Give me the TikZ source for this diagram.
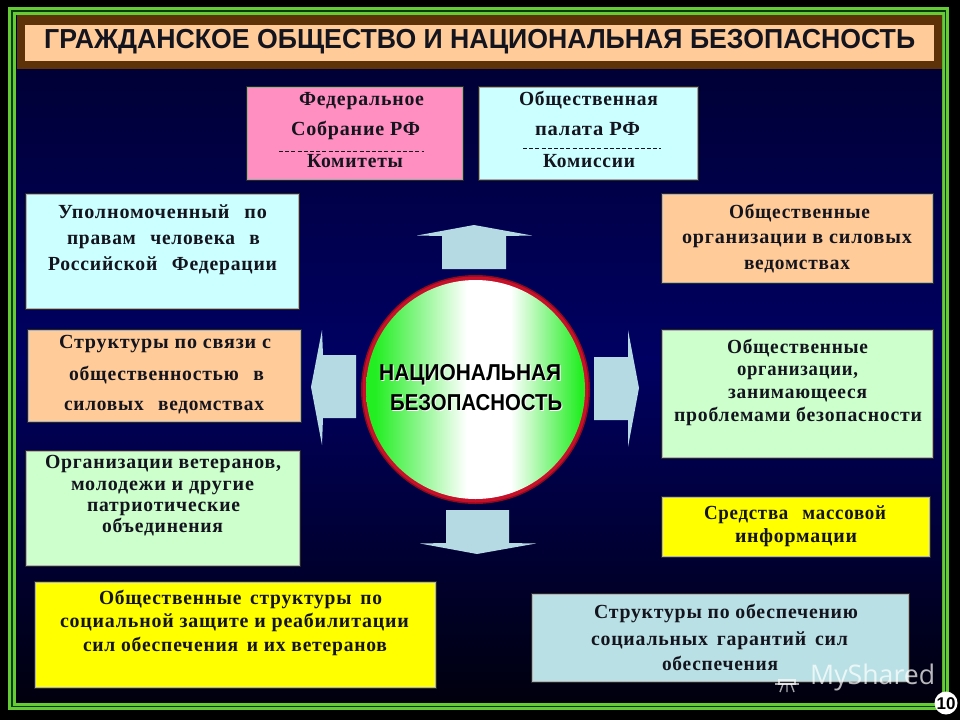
\documentclass[tikz,border=0pt]{standalone}
\usepackage{fontspec}
\usepackage{graphicx}
\setmainfont{Liberation Serif}
\newfontfamily\rf[LetterSpace=4,Ligatures=NoCommon]{Liberation Serif}
\newfontfamily\hs{Liberation Sans}
\newfontfamily\wm{Open Sans}
\definecolor{bg1}{HTML}{00002E}
\definecolor{bg2}{HTML}{000062}
\definecolor{bg3}{HTML}{00000E}
\definecolor{frameg}{HTML}{66CC33}
\definecolor{framed}{HTML}{0A3A10}
\definecolor{brownb}{HTML}{5E3208}
\definecolor{peach}{HTML}{FFCC99}
\definecolor{pinkb}{HTML}{FF8FC0}
\definecolor{cyanb}{HTML}{CCFFFF}
\definecolor{greenb}{HTML}{CCFFCC}
\definecolor{yellowb}{HTML}{FFFF00}
\definecolor{blueb}{HTML}{B9E0E4}
\definecolor{arrowb}{HTML}{B5DAE3}
\definecolor{ink}{HTML}{14141E}
\definecolor{ringr}{HTML}{C8102A}
\definecolor{ballg}{HTML}{22EE22}
\pgfdeclarehorizontalshading{ballshade}{100bp}{color(0bp)=(ballg); color(27bp)=(ballg); color(48bp)=(white); color(58bp)=(white); color(74bp)=(ballg); color(100bp)=(ballg)}
\newcounter{tlc}
\tikzset{
  plate/.style={draw=#1,line width=.9pt,inner sep=0pt,outer sep=0pt,preaction={draw=black!85,line width=2.4pt}},
  linetext/.style={anchor=base west,inner sep=0pt,outer sep=0pt,text=ink},
  blockarrow/.style={fill=arrowb,draw=none},
  rule/.style={draw=ink,line width=.6pt,dash pattern=on 4pt off 2.2pt}
}
% name, x1, y1, x2, y2, fill, border
\newcommand\plaque[7]{%
  \pgfmathsetmacro\pw{#4-#2-1}\pgfmathsetmacro\ph{#5-#3-1}%
  \pgfmathsetmacro\px{(#4+#2)/2}\pgfmathsetmacro\py{(#5+#3)/2}%
  \node[plate=#7,fill=#6,minimum width=\pw pt,minimum height=\ph pt] (#1) at (\px,\py) {};}
% x1, x2, baseline, text
\newcommand\tline[4]{%
  \stepcounter{tlc}%
  \pgfmathsetmacro\pw{#2-#1}%
  \node[linetext] (line\arabic{tlc}) at (#1,#3) {\resizebox{\pw pt}{\height}{\fontsize{20}{23}\rf\bfseries #4}};}
\newcommand\wsp{\hspace{.45em}}
\begin{document}
\begin{tikzpicture}[x=1pt,y=-1pt]
\useasboundingbox (0,0) rectangle (960,720);
\fill[black] (0,0) rectangle (960,720);
% frame
\fill[frameg] (8,7) rectangle (949,710);
\fill[framed] (11,10) rectangle (946,707);
\fill[frameg] (12.5,11.5) rectangle (944.5,705.5);
% field
\shade[top color=bg1,bottom color=bg3,middle color=bg2] (16,15) rectangle (942,702);
% title band
\fill[brownb] (17,15) rectangle (942,69);
\fill[peach] (25,25) rectangle (934,61);
\node[anchor=base west,inner sep=0pt,text=ink] (title) at (44,48) {\resizebox{871pt}{\height}{\fontsize{27.5}{30}\hs\bfseries ГРАЖДАНСКОЕ ОБЩЕСТВО И НАЦИОНАЛЬНАЯ БЕЗОПАСНОСТЬ}};
% boxes
\plaque{fed}{247}{87}{463}{180}{pinkb}{gray!70}
\plaque{pal}{479}{87}{698}{180}{cyanb}{gray!70}
\plaque{upo}{26}{194}{299}{309}{cyanb}{gray!60}
\plaque{osv}{662}{194}{933}{283}{peach}{gray!60}
\plaque{ssv}{28}{330}{301}{422}{peach}{gray!60}
\plaque{oor}{662}{330}{933}{458}{greenb}{gray!60}
\plaque{vet}{26}{451}{300}{566}{greenb}{gray!60}
\plaque{smi}{662}{497}{930}{557}{yellowb}{gray!60}
\plaque{soc}{35}{582}{436}{688}{yellowb}{gray!60}
\plaque{gar}{532}{594}{909}{682}{blueb}{gray!60}
% box texts
\tline{299}{424}{105}{Федеральное}
\tline{291}{420}{135}{Собрание РФ}
\draw[rule] (279,151) -- (424,151);
\tline{307}{403}{167}{Комитеты}
\tline{519}{658}{105}{Общественная}
\tline{535}{640}{135}{палата РФ}
\draw[rule] (523,148) -- (661,148);
\tline{543}{635}{167}{Комиссии}
\tline{58}{267}{218}{Уполномоченный\wsp\ по}
\tline{67}{260}{244}{правам\wsp\ человека\wsp\ в}
\tline{48}{277}{270}{Российской\wsp\ Федерации}
\tline{729}{870}{218}{Общественные}
\tline{682}{912}{243}{организации в силовых}
\tline{744}{850}{269}{ведомствах}
\tline{59}{271}{348}{Структуры по связи с}
\tline{69}{264}{380}{общественностью\wsp\ в}
\tline{64}{264}{410}{силовых\wsp\ ведомствах}
\tline{727}{868}{353}{Общественные}
\tline{737}{858}{375}{организации,}
\tline{728}{867}{398}{занимающееся}
\tline{674}{922}{421}{проблемами безопасности}
\tline{45}{281}{468}{Организации ветеранов,}
\tline{71}{254}{490}{молодежи и другие}
\tline{87}{240}{511}{патриотические}
\tline{102}{223}{532}{объединения}
\tline{704}{886}{519}{Средства\wsp\ массовой}
\tline{735}{857}{542}{информации}
\tline{99}{382}{604}{Общественные\wsp структуры\wsp по}
\tline{60}{409}{627}{социальной защите и реабилитации}
\tline{83}{387}{651}{сил обеспечения\wsp и их ветеранов}
\tline{594}{858}{618}{Структуры по обеспечению}
\tline{591}{848}{645}{социальных\wsp гарантий\wsp сил}
\tline{662}{778}{670}{обеспечения}
% arrows
\fill[blockarrow] (474,225) -- (532,235.5) -- (506,236) -- (506,269) -- (442,269) -- (442,236) -- (417,235.5) -- cycle;
\fill[blockarrow] (311,387) -- (322,330) -- (323,355) -- (356,355) -- (356,418) -- (323,418) -- (322,445) -- cycle;
\fill[blockarrow] (639,388) -- (628,330) -- (628,357) -- (594,357) -- (594,420) -- (628,420) -- (628,447) -- cycle;
\fill[blockarrow] (477,554) -- (536,543.5) -- (509,543) -- (509,510) -- (446,510) -- (446,543) -- (420,543.5) -- cycle;
% central ball
\fill[ringr!70!black] (475.5,389.5) circle (114.5);
\fill[ringr] (475.5,389.5) circle (113);
\shade[shading=ballshade] (475.5,389.5) circle (109.5);
\node[anchor=base west,inner sep=0pt,text=white] (natshadow) at (380,381) {\resizebox{182pt}{\height}{\fontsize{23}{26}\hs\bfseries НАЦИОНАЛЬНАЯ}};
\node[anchor=base west,inner sep=0pt,text=white] (bezshadow) at (391,411) {\resizebox{172pt}{\height}{\fontsize{23}{26}\hs\bfseries БЕЗОПАСНОСТЬ}};
\node[anchor=base west,inner sep=0pt,text=black] (nat) at (379,380) {\resizebox{182pt}{\height}{\fontsize{23}{26}\hs\bfseries НАЦИОНАЛЬНАЯ}};
\node[anchor=base west,inner sep=0pt,text=black] (bez) at (390,410) {\resizebox{172pt}{\height}{\fontsize{23}{26}\hs\bfseries БЕЗОПАСНОСТЬ}};
% watermark
\begin{scope}[draw=white,opacity=.65,line width=1.4pt]
\draw (775,684) -- (799,684);
\draw (779,680) rectangle (795,684);
\draw (783,684) -- (780,692) (787,684) -- (787,692) (791,684) -- (794,692);
\end{scope}
\node[anchor=base west,inner sep=0pt,text=white,opacity=.72] (wmark) at (810,684) {\resizebox{125pt}{\height}{\fontsize{27}{30}\wm MyShared}};
% page badge
\fill[white] (946,703) circle (11.5);
\node[inner sep=0pt,text=black] (badge) at (946,703.5) {\fontsize{17}{20}\hs\bfseries 10};
\end{tikzpicture}
\end{document}
